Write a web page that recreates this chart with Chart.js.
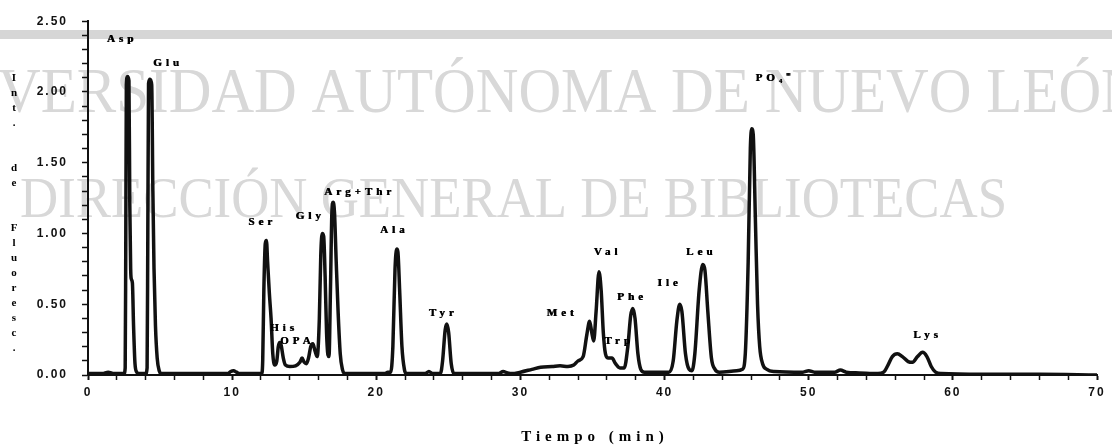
<!DOCTYPE html>
<html>
<head>
<meta charset="utf-8">
<script src="https://cdn.jsdelivr.net/npm/chart.js@4.4.1/dist/chart.umd.min.js"></script>
<style>
  html, body { margin: 0; padding: 0; background: #fff; }
  #wrap { width: 1112px; height: 448px; position: relative; }
</style>
</head>
<body>
<div id="wrap"><canvas id="cromatograma"></canvas></div>
<script>
// tiempo de retencion (min) e intensidad de fluorescencia del cromatograma
var tiempo = [
  0, 1.0, 1.4, 1.8, 2.5, 2.58, 2.62, 2.66, 2.74, 2.84, 2.9, 2.96, 3.0, 3.08, 3.16, 3.26, 3.38, 3.5,
  4.0, 4.1, 4.15, 4.2, 4.3, 4.42, 4.5, 4.58, 4.68, 4.8, 4.94, 5.1,
  6.0, 8.0, 9.7, 9.9, 10.1, 10.3, 10.5,
  12.05, 12.12, 12.2, 12.3, 12.38, 12.46, 12.58, 12.7, 12.82, 12.95,
  13.1, 13.2, 13.3, 13.4, 13.55, 13.7, 14.0, 14.4, 14.7, 14.85, 15.0, 15.15,
  15.3, 15.45, 15.6, 15.75, 15.9, 16.05, 16.15, 16.25, 16.35, 16.45, 16.55, 16.65,
  16.72, 16.82, 16.92, 17.0, 17.1, 17.22, 17.35, 17.5, 17.65, 17.8,
  19.0, 20.6, 20.8, 21.0, 21.15, 21.3, 21.42, 21.5, 21.62, 21.78, 21.95, 22.1,
  23.4, 23.65, 23.9, 24.45, 24.6, 24.78, 24.9, 25.02, 25.2, 25.4,
  28.5, 28.8, 29.1, 29.4, 30.0, 30.8, 31.4, 32.2, 32.75, 33.3, 33.7, 34.0, 34.35,
  34.6, 34.8, 34.95, 35.08, 35.25, 35.45, 35.6, 35.75, 35.9, 36.1, 36.35, 36.6, 36.9, 37.2,
  37.45, 37.65, 37.8, 37.95, 38.15, 38.35, 38.6,
  40.3, 40.6, 40.85, 41.05, 41.2, 41.45, 41.7, 41.9, 42.1, 42.4, 42.65, 42.8, 43.0, 43.25, 43.5, 43.8,
  45.0, 45.4, 45.6, 45.8, 45.95, 46.05, 46.15, 46.3, 46.45, 46.6, 46.8, 47.1, 47.6,
  49.6, 50.0, 50.4, 51.8, 52.2, 52.6, 53.5, 54.8,
  55.2, 55.5, 55.8, 56.15, 56.5, 56.9, 57.2, 57.55, 57.9, 58.2, 58.5, 58.8, 59.2,
  62, 66, 70
];
var intensidad = [
  0.01, 0.01, 0.02, 0.01, 0.01, 0.05, 0.9, 2.05, 2.11, 2.08, 1.2, 0.75, 0.68, 0.65, 0.35, 0.08, 0.02, 0.01,
  0.01, 0.05, 1.0, 2.06, 2.09, 2.05, 1.3, 0.75, 0.35, 0.12, 0.03, 0.01,
  0.01, 0.01, 0.01, 0.025, 0.03, 0.02, 0.01,
  0.01, 0.1, 0.6, 0.93, 0.95, 0.8, 0.58, 0.4, 0.15, 0.07,
  0.1, 0.2, 0.23, 0.21, 0.12, 0.07, 0.06, 0.065, 0.09, 0.12, 0.09, 0.08,
  0.12, 0.2, 0.22, 0.17, 0.13, 0.4, 0.85, 1.0, 0.98, 0.7, 0.3, 0.14,
  0.13, 0.6, 1.15, 1.22, 1.15, 0.8, 0.45, 0.15, 0.04, 0.01,
  0.01, 0.01, 0.02, 0.02, 0.2, 0.75, 0.89, 0.87, 0.6, 0.2, 0.04, 0.01,
  0.01, 0.025, 0.01, 0.01, 0.1, 0.32, 0.36, 0.3, 0.08, 0.01,
  0.01, 0.025, 0.015, 0.01, 0.02, 0.04, 0.055, 0.06, 0.065, 0.06, 0.07, 0.1, 0.13,
  0.28, 0.38, 0.3, 0.24, 0.45, 0.73, 0.6, 0.3, 0.15, 0.12, 0.12, 0.08, 0.05, 0.05,
  0.2, 0.42, 0.47, 0.4, 0.15, 0.04, 0.02,
  0.02, 0.1, 0.38, 0.5, 0.45, 0.15, 0.04, 0.03, 0.15, 0.6, 0.78, 0.74, 0.45, 0.12, 0.04, 0.02,
  0.03, 0.04, 0.15, 0.8, 1.6, 1.74, 1.7, 1.1, 0.5, 0.2, 0.08, 0.04, 0.025,
  0.02, 0.03, 0.02, 0.02, 0.035, 0.02, 0.015, 0.01,
  0.02, 0.07, 0.13, 0.15, 0.13, 0.095, 0.09, 0.13, 0.16, 0.13, 0.06, 0.02, 0.01,
  0.005, 0.005, 0.0
];

// rotulos de los picos y su posicion (min, intensidad)
var aminoacidos = ['Asp', 'Glu', 'Ser', 'His', 'OPA', 'Gly', 'Arg+Thr', 'Ala', 'Tyr', 'Met',
                   'Val', 'Trp', 'Phe', 'Ile', 'Leu', 'PO\u2084\u207C', 'Lys'];
var rotuloX = [2.22, 5.41, 11.94, 13.45, 14.37, 15.27, 18.7, 21.1, 24.5, 32.75,
               35.9, 36.7, 37.6, 40.2, 42.4, 47.5, 58.1];
var rotuloY = [2.375, 2.2, 1.08, 0.33, 0.236, 1.125, 1.29, 1.02, 0.44, 0.44,
               0.87, 0.24, 0.55, 0.65, 0.87, 2.10, 0.28];

var etiquetasX = [0, 10, 20, 30, 40, 50, 60, 70];
var etiquetasY = [0, 0.5, 1.0, 1.5, 2.0, 2.5];

var tituloX = 'Tiempo (min)';
var tituloY = 'Int. de Fluoresc.';
var marcaAgua = ['UNIVERSIDAD AUT\u00D3NOMA DE NUEVO LE\u00D3N', 'DIRECCI\u00D3N GENERAL DE BIBLIOTECAS'];

var tinta = '#111';
var serif = '"Liberation Serif", "Times New Roman", serif';

// fondo, franja gris y marca de agua detras del trazo
var fondo = {
  id: 'fondo',
  beforeDraw: function (chart) {
    var ctx = chart.ctx;
    ctx.save();
    ctx.fillStyle = '#fff';
    ctx.fillRect(0, 0, chart.width, chart.height);
    ctx.fillStyle = '#d6d6d6';
    ctx.fillRect(0, 30, chart.width, 9);

    ctx.letterSpacing = '0px';
    ctx.fillStyle = '#d8d8d8';
    ctx.textAlign = 'left';
    ctx.textBaseline = 'alphabetic';

    // segunda linea: de x=20 a x=1007
    ctx.font = '57px ' + serif;
    var esc2 = 987 / ctx.measureText(marcaAgua[1]).width;
    ctx.save();
    ctx.translate(20, 217);
    ctx.scale(esc2, 1);
    ctx.fillText(marcaAgua[1], 0, 0);
    ctx.restore();

    // primera linea, mas grande: "VERSIDAD" empieza en el borde y la E de NUEVO en x=850
    ctx.font = '64px ' + serif;
    var hastaE = ctx.measureText('UNIVERSIDAD AUT\u00D3NOMA DE NU').width;
    var uni = ctx.measureText('UNI').width;
    var esc1 = 852 / (hastaE - uni);
    ctx.save();
    ctx.translate(850 - hastaE * esc1, 112);
    ctx.scale(esc1, 1);
    ctx.fillText(marcaAgua[0], 0, 0);
    ctx.restore();
    ctx.restore();
    // espaciado de las etiquetas de los ejes
    ctx.letterSpacing = '2px';
  }
};

// nombres de los picos y titulos de los ejes
var rotulos = {
  id: 'rotulos',
  afterDraw: function (chart) {
    var ctx = chart.ctx, sx = chart.scales.x, sy = chart.scales.y, area = chart.chartArea;
    ctx.save();
    ctx.fillStyle = '#000';
    ctx.textAlign = 'center';
    ctx.textBaseline = 'middle';
    ctx.font = 'bold 11px ' + serif;
    ctx.letterSpacing = '4px';
    aminoacidos.forEach(function (nombre, i) {
      var px = sx.getPixelForValue(rotuloX[i]) + 2, py = sy.getPixelForValue(rotuloY[i]);
      ctx.fillText(nombre, px, py);
      ctx.fillText(nombre, px + 0.6, py);
    });

    // titulo del eje y, una letra debajo de otra
    ctx.letterSpacing = '0px';
    var y = area.top + 57;
    for (var k = 0; k < tituloY.length; k++) {
      var c = tituloY.charAt(k);
      if (c === ' ') { y += 30; continue; }
      ctx.fillText(c, 14, y);
      y += 15;
    }

    ctx.font = 'bold 15px ' + serif;
    ctx.letterSpacing = '5px';
    ctx.fillText(tituloX, (area.left + area.right) / 2 + 2.5, 437);
    ctx.restore();
  }
};

var ctx = document.getElementById('cromatograma').getContext('2d');
var grafico = new Chart(ctx, {
  type: 'line',
  data: {
    datasets: [{
      data: tiempo.map(function (t, i) { return { x: t, y: intensidad[i] }; }),
      borderColor: tinta,
      borderWidth: 3.5,
      pointRadius: 0,
      cubicInterpolationMode: 'monotone',
      fill: false
    }]
  },
  options: {
    responsive: true,
    maintainAspectRatio: false,
    animation: false,
    events: [],
    layout: { padding: { top: 15, right: 15, left: 0, bottom: 0 } },
    plugins: {
      legend: { display: false },
      title: { display: false },
      tooltip: { enabled: false }
    },
    scales: {
      x: {
        type: 'linear',
        min: 0,
        max: 70,
        afterFit: function (s) { s.height = 73; },
        border: { color: tinta, width: 2 },
        grid: {
          drawOnChartArea: false,
          tickLength: 5,
          color: tinta,
          tickWidth: function (c) { return etiquetasX.indexOf(c.tick.value) >= 0 ? 2 : 1.5; }
        },
        ticks: {
          stepSize: 2,
          autoSkip: false,
          maxRotation: 0,
          padding: 5,
          color: tinta,
          font: { family: '"Liberation Sans", Arial, sans-serif', size: 12, weight: 'bold' },
          callback: function (v) { return etiquetasX.indexOf(v) >= 0 ? String(v) : ''; }
        }
      },
      y: {
        min: 0,
        max: 2.5,
        afterFit: function (s) { s.width = 88; },
        border: { color: tinta, width: 2 },
        grid: {
          drawOnChartArea: false,
          tickLength: 6,
          color: tinta,
          tickWidth: 1.5
        },
        ticks: {
          stepSize: 0.1,
          autoSkip: false,
          padding: 14,
          color: tinta,
          font: { family: '"Liberation Sans", Arial, sans-serif', size: 12, weight: 'bold' },
          callback: function (v) {
            for (var i = 0; i < etiquetasY.length; i++) {
              if (Math.abs(v - etiquetasY[i]) < 1e-6) return etiquetasY[i].toFixed(2);
            }
            return '';
          }
        }
      }
    }
  },
  plugins: [fondo, rotulos]
});
</script>
</body>
</html>
